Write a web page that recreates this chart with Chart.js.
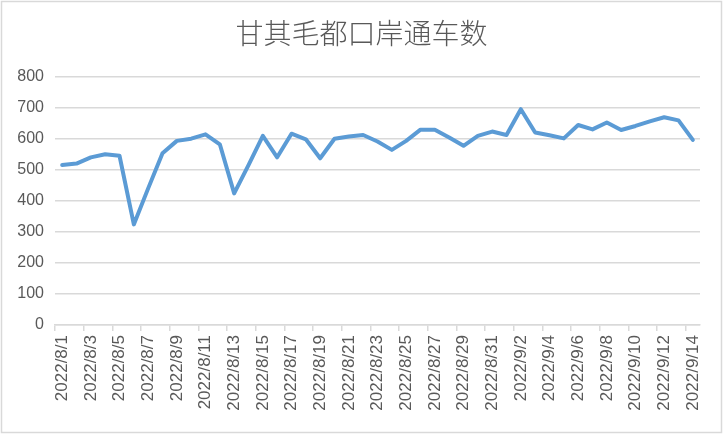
<!DOCTYPE html>
<html>
<head>
<meta charset="utf-8">
<script src="https://cdn.jsdelivr.net/npm/chart.js@4/dist/chart.umd.min.js"></script>
<style>
  html, body { margin: 0; padding: 0; background: #fff; }
  #wrap { width: 723px; height: 434px; }
</style>
</head>
<body>
<div id="wrap"><canvas id="chart" width="723" height="434"></canvas></div>
<script>
// 甘其毛都口岸通车数, 2022/8/1 - 2022/9/14
const dates = [
    '2022/8/1', '2022/8/2', '2022/8/3', '2022/8/4', '2022/8/5', '2022/8/6', '2022/8/7', '2022/8/8',
    '2022/8/9', '2022/8/10', '2022/8/11', '2022/8/12', '2022/8/13', '2022/8/14', '2022/8/15', '2022/8/16',
    '2022/8/17', '2022/8/18', '2022/8/19', '2022/8/20', '2022/8/21', '2022/8/22', '2022/8/23', '2022/8/24',
    '2022/8/25', '2022/8/26', '2022/8/27', '2022/8/28', '2022/8/29', '2022/8/30', '2022/8/31',
    '2022/9/1', '2022/9/2', '2022/9/3', '2022/9/4', '2022/9/5', '2022/9/6', '2022/9/7', '2022/9/8',
    '2022/9/9', '2022/9/10', '2022/9/11', '2022/9/12', '2022/9/13', '2022/9/14'
];
const vehicles = [
    515, 520, 540, 550, 545, 324, 440, 553,
    593, 600, 614, 582, 424, 515, 609, 540,
    616, 598, 537, 600, 607, 612, 591, 564,
    593, 629, 629, 604, 577, 609, 623,
    612, 695, 620, 611, 601, 644, 630, 652,
    628, 641, 656, 669, 659, 596
];
const yTicks = [0, 100, 200, 300, 400, 500, 600, 700, 800];

const textColor = '#595959';
const gridColor = '#d9d9d9';

// white background + thin frame like the Excel chart area
const frame = {
    id: 'frame',
    beforeDraw(chart) {
        const ctx = chart.ctx;
        ctx.save();
        ctx.fillStyle = '#fff';
        ctx.fillRect(0, 0, chart.width, chart.height);
        ctx.strokeStyle = gridColor;
        ctx.lineWidth = 1.5;
        ctx.strokeRect(1.5, 1.5, chart.width - 3, chart.height - 3);
        ctx.restore();
    }
};

new Chart(document.getElementById('chart'), {
    type: 'line',
    data: {
        labels: dates,
        datasets: [{
            label: '通车数',
            data: vehicles,
            borderColor: '#5b9bd5',
            borderWidth: 4,
            borderJoinStyle: 'round',
            borderCapStyle: 'round',
            pointRadius: 0,
            tension: 0,
            fill: false
        }]
    },
    options: {
        responsive: false,
        animation: false,
        devicePixelRatio: 1,
        layout: { padding: 0 },
        plugins: {
            legend: { display: false },
            tooltip: { enabled: false },
            title: {
                display: true,
                text: '甘其毛都口岸通车数',
                color: textColor,
                font: { family: '"Noto Sans CJK SC", sans-serif', size: 28, weight: 300 },
                padding: { top: 17, bottom: 26 }
            }
        },
        scales: {
            x: {
                offset: true,
                grid: {
                    offset: true,
                    drawOnChartArea: false,
                    tickLength: 6,
                    color: (c) => (c.index % 2 === 0 ? gridColor : 'rgba(0,0,0,0)'),
                    lineWidth: 1.5
                },
                border: { display: true, color: gridColor, width: 1.5 },
                ticks: {
                    autoSkip: false,
                    minRotation: 90,
                    maxRotation: 90,
                    padding: 4,
                    color: textColor,
                    font: { family: '"Liberation Sans", Arial, sans-serif', size: 17 },
                    callback: (v, i) => (i % 2 === 0 ? dates[i] : '')
                },
                afterFit: (s) => { s.height = 109; }
            },
            y: {
                min: 0,
                max: 800,
                afterBuildTicks: (s) => { s.ticks = yTicks.map(v => ({ value: v })); },
                grid: { color: gridColor, lineWidth: 1.5, drawTicks: false },
                border: { display: false },
                ticks: {
                    padding: 11,
                    color: textColor,
                    font: { family: '"Liberation Sans", Arial, sans-serif', size: 16 }
                },
                afterFit: (s) => { s.width = 55; }
            },
            // empty right-hand margin, keeps the title centred on the whole canvas
            gap: {
                type: 'linear',
                position: 'right',
                min: 0,
                max: 800,
                grid: { display: false },
                border: { display: false },
                ticks: { display: false },
                afterFit: (s) => { s.width = 23; }
            }
        }
    },
    plugins: [frame]
});
</script>
</body>
</html>
